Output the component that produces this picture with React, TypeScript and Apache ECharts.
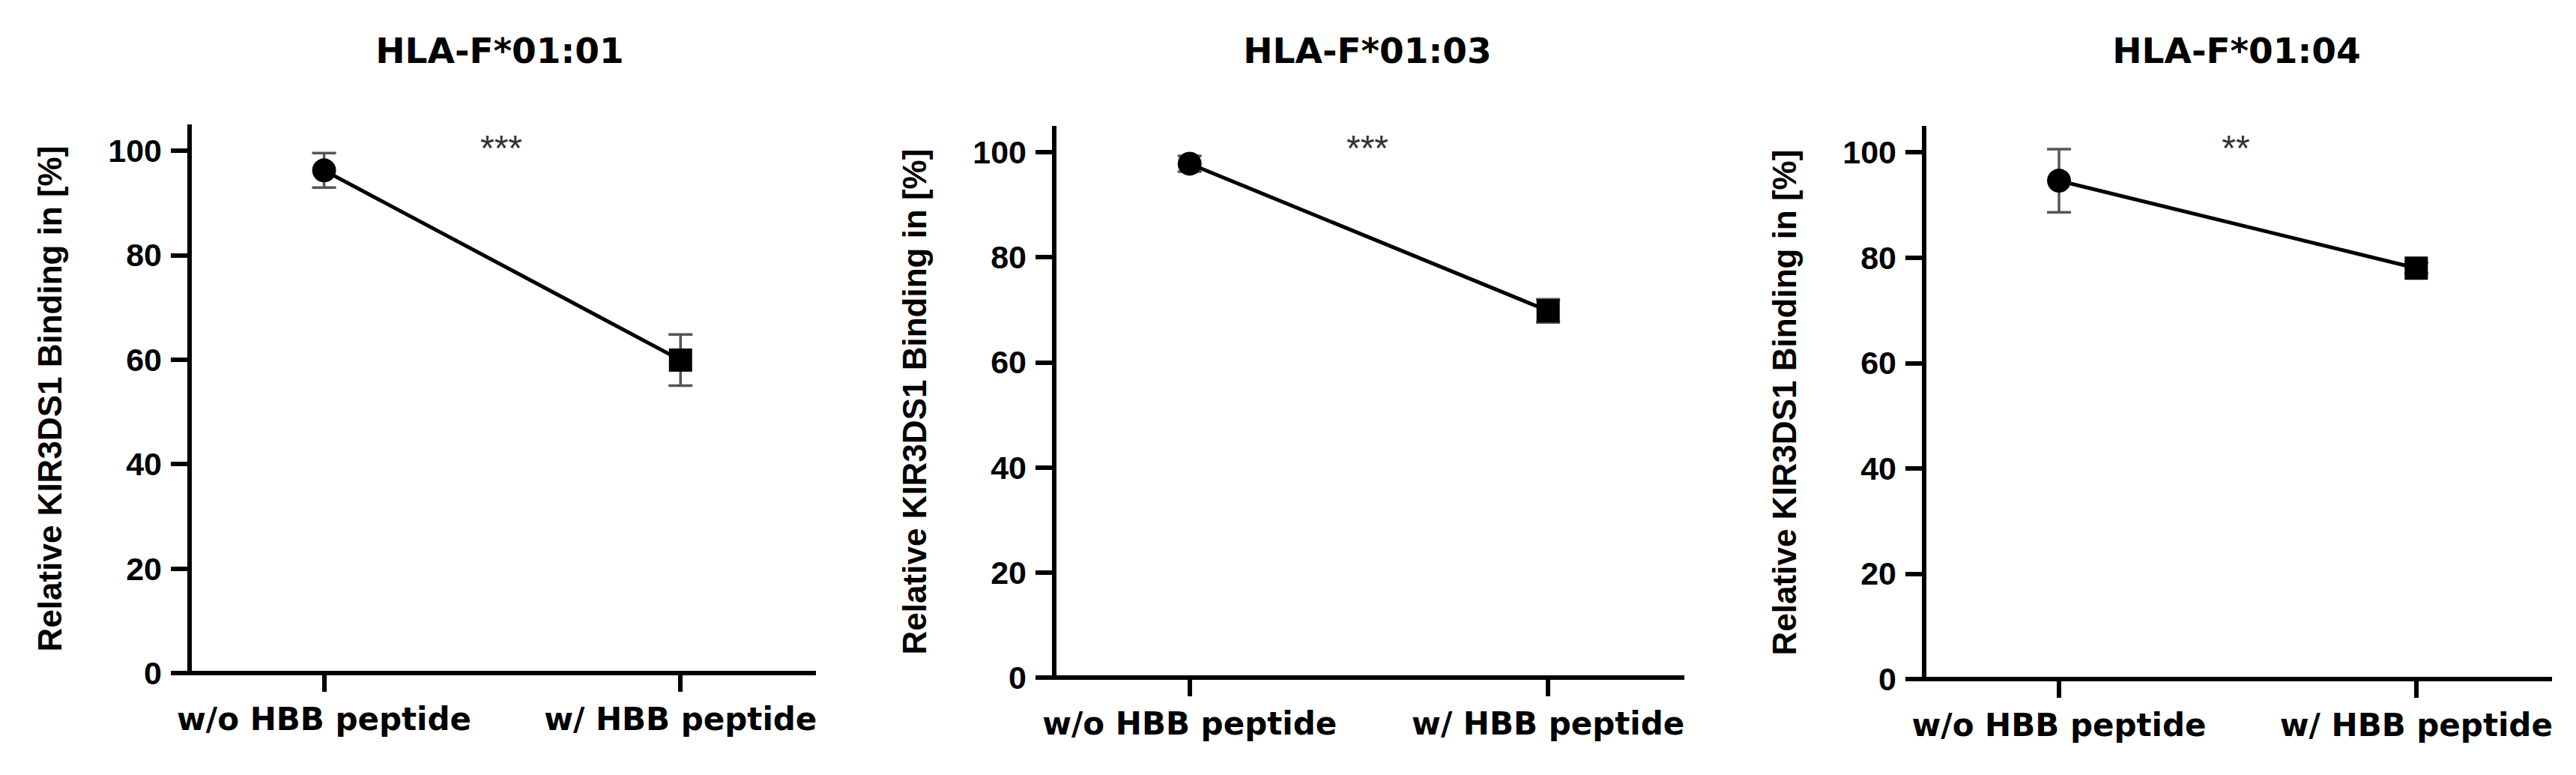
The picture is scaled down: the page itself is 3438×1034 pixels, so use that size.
import React, { useEffect, useRef } from "react";
import * as echarts from "echarts";

const categories = ["w/o HBB peptide", "w/ HBB peptide"];
const panelTitles = ["HLA-F*01:01", "HLA-F*01:03", "HLA-F*01:04"];
const meanValues = [
  [96.2, 59.9],
  [97.8, 69.8],
  [94.6, 78.0],
];
const sdValues = [
  [3.3, 4.9],
  [1.5, 2.2],
  [6.0, 1.0],
];
const significance = ["***", "***", "**"];
const yTickValues = [0, 20, 40, 60, 80, 100];
const yAxisTitle = "Relative KIR3DS1 Binding in [%]";

const W = 3438;
const H = 1034;

// layout (pixels)
const gridBoxes = [
  { l: 228, r: 1089, t: 166, b: 898 },
  { l: 1382, r: 2248, t: 168, b: 904 },
  { l: 2543, r: 3406, t: 168, b: 906 },
];
const titleCenters = [667, 1825, 2985];
const starCenters = [669, 1825, 2984];

export default function App() {
  const ref = useRef<HTMLDivElement>(null);

  useEffect(() => {
    document.body.style.margin = "0";
    if (!ref.current) return;
    const chart = echarts.init(ref.current, undefined, { renderer: "svg" });

    const grid = gridBoxes.map((g) => ({
      left: g.l,
      right: W - g.r,
      top: g.t,
      bottom: H - g.b,
      containLabel: false,
      outerBoundsMode: "none",
    }));

    const xAxis = gridBoxes.map((_, i) => ({
      type: "value",
      gridIndex: i,
      min: -0.43,
      max: 1.38,
      axisLine: { show: true, onZero: false, lineStyle: { color: "#000", width: 6, cap: "butt" } },
      axisTick: {
        show: true,
        customValues: [0, 1],
        length: 25,
        lineStyle: { color: "#000", width: 6 },
      },
      axisLabel: {
        show: true,
        customValues: [0, 1],
        margin: 40,
        formatter: (v: number) => categories[Math.round(v)] ?? "",
        color: "#000",
        fontFamily: "DejaVu Sans",
        fontWeight: "bold",
        fontSize: 42,
      },
      splitLine: { show: false },
    }));

    const yAxis = gridBoxes.map((_, i) => ({
      type: "value",
      gridIndex: i,
      min: 0,
      max: 105,
      offset: -25,
      name: yAxisTitle,
      nameLocation: "middle",
      nameGap: 165,
      nameTextStyle: {
        color: "#000",
        fontFamily: "Liberation Sans",
        fontWeight: "bold",
        fontSize: 44,
      },
      axisLine: { show: true, onZero: false, lineStyle: { color: "#000", width: 6, cap: "butt" } },
      axisTick: {
        show: true,
        customValues: yTickValues,
        length: 25,
        lineStyle: { color: "#000", width: 6 },
      },
      axisLabel: {
        show: true,
        customValues: yTickValues,
        margin: 37,
        color: "#000",
        fontFamily: "Liberation Sans",
        fontWeight: "bold",
        fontSize: 43,
      },
      splitLine: { show: false },
    }));

    const series: any[] = [];
    meanValues.forEach((means, i) => {
      series.push({
        type: "custom",
        xAxisIndex: i,
        yAxisIndex: i,
        z: 1,
        silent: true,
        data: means.map((m, j) => [j, m - sdValues[i][j], m + sdValues[i][j]]),
        renderItem: (_params: any, api: any) => {
          const x = api.value(0);
          const lo = api.coord([x, api.value(1)]);
          const hi = api.coord([x, api.value(2)]);
          const hw = 16;
          const style = { stroke: "#555", lineWidth: 3.5 };
          return {
            type: "group",
            children: [
              { type: "line", shape: { x1: lo[0], y1: lo[1], x2: hi[0], y2: hi[1] }, style },
              { type: "line", shape: { x1: lo[0] - hw, y1: lo[1], x2: lo[0] + hw, y2: lo[1] }, style },
              { type: "line", shape: { x1: hi[0] - hw, y1: hi[1], x2: hi[0] + hw, y2: hi[1] }, style },
            ],
          };
        },
      });
      series.push({
        type: "line",
        xAxisIndex: i,
        yAxisIndex: i,
        z: 2,
        silent: true,
        lineStyle: { color: "#000", width: 5 },
        itemStyle: { color: "#000" },
        data: means.map((m, j) => ({
          value: [j, m],
          symbol: j === 0 ? "circle" : "rect",
          symbolSize: j === 0 ? 32 : 31,
        })),
      });
    });

    const graphic: any[] = [];
    panelTitles.forEach((t, i) => {
      graphic.push({
        type: "text",
        x: titleCenters[i],
        y: 67,
        style: {
          text: t,
          align: "center",
          verticalAlign: "middle",
          fill: "#000",
          font: "bold 47px 'DejaVu Sans'",
        },
      });
      graphic.push({
        type: "text",
        x: starCenters[i],
        y: 197,
        style: {
          text: significance[i],
          align: "center",
          verticalAlign: "middle",
          fill: "#333",
          font: "normal 48px 'Liberation Sans'",
        },
      });
    });

    chart.setOption({
      animation: false,
      backgroundColor: "#fff",
      grid,
      xAxis,
      yAxis,
      series,
      graphic,
    });

    return () => chart.dispose();
  }, []);

  return (
    <div
      ref={ref}
      style={{ position: "absolute", left: 0, top: 0, width: W, height: H }}
    />
  );
}
